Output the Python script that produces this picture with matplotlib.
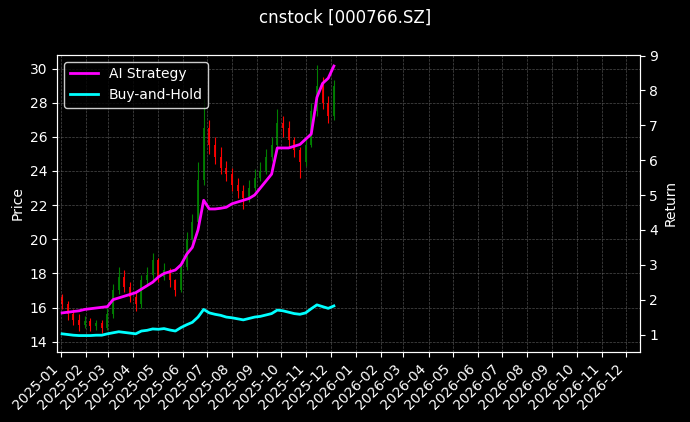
import matplotlib
matplotlib.use("Agg")
import matplotlib.pyplot as plt
import matplotlib.dates as mdates
import pandas as pd
import numpy as np

opens = [16.6,16.2,15.6,15.3,15.0, 15.2,14.9,15.1,14.8, 15.6,17.0,17.8,17.2, 16.6,16.2,17.6,17.9,
         18.8,17.8,18.2,17.6,17.0, 18.4,20.0,21.0,23.5, 26.5,25.5,24.8,24.2, 23.8,23.2,22.8,22.4,23.0,
         23.6,24.0,24.8,25.5, 26.8,26.5,25.8,25.2,24.5, 25.5,27.5,29.0,28.0, 27.2]
closes = [16.2,15.6,15.3,15.0,15.2, 14.9,15.1,14.8,15.6, 17.0,17.8,17.2,16.6, 16.2,17.6,17.9,18.8,
          17.8,18.2,17.6,17.0,18.4, 20.0,21.0,23.5,26.5, 25.5,24.8,24.2,23.8, 23.2,22.8,22.4,23.0,23.6,
          24.0,24.8,25.5,26.8, 26.5,25.8,25.2,24.5,25.5, 27.5,29.0,28.0,27.2, 29.0]
highs = [16.8,16.4,15.9,15.6,15.5, 15.4,15.3,15.3,16.0, 17.4,18.4,18.2,17.5, 16.9,17.9,18.4,19.2,
         18.9,18.6,18.3,17.7,18.7, 20.4,21.5,24.5,28.2, 27.0,26.0,25.4,24.6, 24.2,23.6,23.2,23.5,24.1,
         24.5,25.3,26.0,27.6, 27.2,26.9,26.0,25.4,26.0, 28.0,30.2,29.5,28.4, 29.3]
lows = [15.9,15.3,15.0,14.6,14.8, 14.6,14.7,14.5,14.7, 15.4,16.8,16.9,16.3, 15.8,16.0,17.3,17.6,
        17.5,17.6,17.2,16.7,16.9, 18.2,19.8,20.8,23.2, 25.0,24.4,23.8,23.4, 22.8,22.4,21.8,22.2,22.8,
        23.4,23.8,24.6,25.3, 26.0,25.4,24.8,23.6,24.3, 25.4,27.2,27.6,26.8, 27.0]
strategy = [1.62,1.64,1.66,1.68,1.72, 1.74,1.76,1.78,1.80, 2.0,2.05,2.1,2.15, 2.2,2.3,2.4,2.5,
            2.65,2.75,2.8,2.85,3.0, 3.3,3.5,4.0,4.85, 4.6,4.6,4.62,4.65, 4.75,4.8,4.85,4.9,5.0,
            5.2,5.4,5.6,6.35, 6.35,6.35,6.4,6.45,6.6, 6.75,7.8,8.2,8.35, 8.7]
buyhold = [1.02,1.0,0.98,0.97,0.97, 0.97,0.98,0.98,1.02, 1.05,1.08,1.06,1.04, 1.02,1.10,1.12,1.16,
           1.15,1.17,1.13,1.1,1.2, 1.28,1.35,1.50,1.72, 1.62,1.58,1.55,1.50, 1.48,1.45,1.42,1.46,1.50,
           1.52,1.56,1.60,1.70, 1.68,1.64,1.60,1.58,1.62, 1.74,1.85,1.80,1.75, 1.82]
dates = pd.date_range("2025-01-03", periods=len(closes), freq="7D")

plt.style.use("dark_background")
fig, ax = plt.subplots(figsize=(6.9, 4.22), dpi=100)
fig.patch.set_facecolor("black")
ax.set_facecolor("black")
x = mdates.date2num(dates)
for xi, o, h, l, c in zip(x, opens, highs, lows, closes):
    col = "green" if c >= o else "red"
    ax.vlines(xi, l, h, color=col, linewidth=0.8)
    ax.bar(xi, abs(c - o) if abs(c - o) > 0.05 else 0.05, bottom=min(o, c), width=2.5, color=col, alpha=0.9)
ax.set_ylabel("Price")
ax.set_ylim(13.4, 30.8)
ax.set_xlim(mdates.date2num(pd.Timestamp("2024-12-28")), mdates.date2num(pd.Timestamp("2026-12-18")))
ax.xaxis.set_major_locator(mdates.MonthLocator())
ax.xaxis.set_major_formatter(mdates.DateFormatter("%Y-%m"))
plt.setp(ax.get_xticklabels(), rotation=45, ha="right")
ax.grid(True, color="gray", linestyle="--", linewidth=0.5, alpha=0.6)

ax2 = ax.twinx()
ax2.plot(dates, strategy, color="magenta", linewidth=2, label="AI Strategy")
ax2.plot(dates, buyhold, color="cyan", linewidth=2, label="Buy-and-Hold")
ax2.set_ylim(0.5, 9.02)
ax2.set_ylabel("Return")
leg = ax2.legend(loc="upper left", facecolor="black", edgecolor="white")
fig.suptitle("cnstock [000766.SZ]", fontsize=12)
fig.subplots_adjust(left=0.083, right=0.927, top=0.87, bottom=0.166)
fig.savefig("out.png", dpi=100, facecolor="black")
